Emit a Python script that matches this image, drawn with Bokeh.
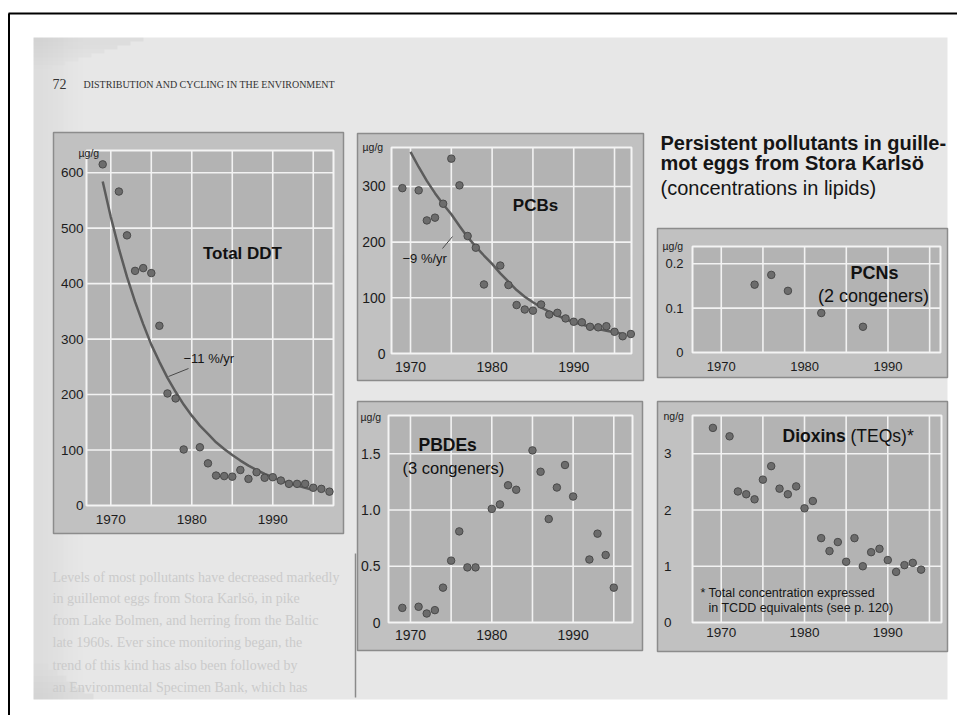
from bokeh.plotting import figure
from bokeh.models import Range1d, LinearAxis, FixedTicker
from bokeh.core.properties import value
from bokeh.embed import file_html
from bokeh.resources import INLINE

# ---------------- data ----------------
ddt_years = [1969, 1971, 1972, 1973, 1974, 1975, 1976, 1977, 1978, 1979, 1981, 1982, 1983, 1984,
             1985, 1986, 1987, 1988, 1989, 1990, 1991, 1992, 1993, 1994, 1995, 1996, 1997]
ddt_values = [615, 566, 487, 423, 428, 419, 324, 202, 193, 101, 105, 76, 54, 53,
              52, 64, 48, 60, 50, 51, 45, 39, 39, 39, 32, 30, 25]
ddt_fit_years = [1969, 1970, 1971, 1972, 1973, 1974, 1975, 1976, 1977, 1978, 1979, 1980, 1981, 1982,
                 1983, 1984, 1985, 1986, 1987, 1988, 1989, 1990, 1991, 1992, 1993, 1994, 1995]
ddt_fit_values = [584, 520, 463, 412, 367, 327, 290, 259, 230, 205, 182, 162, 144, 129,
                  114, 102, 91, 81, 72, 64, 57, 51, 45, 40, 36, 32, 28]

pcb_years = [1969, 1971, 1972, 1973, 1974, 1975, 1976, 1977, 1978, 1979, 1981, 1982, 1983, 1984,
             1985, 1986, 1987, 1988, 1989, 1990, 1991, 1992, 1993, 1994, 1995, 1996, 1997]
pcb_values = [297, 293, 239, 244, 269, 350, 302, 211, 190, 124, 158, 123, 87, 79,
              77, 88, 70, 73, 63, 57, 56, 48, 47, 49, 39, 31, 35]
pcb_fit_years = [1970, 1971, 1972, 1973, 1974, 1975, 1976, 1977, 1978, 1979, 1980, 1981, 1982,
                 1983, 1984, 1985, 1986, 1987, 1988, 1989, 1990, 1991, 1992, 1993, 1994, 1995, 1996]
pcb_fit_values = [362, 335, 310, 288, 268, 250, 229, 209, 192, 176, 161, 144, 129,
                  114, 102, 92, 83, 75, 68, 62, 56, 52, 48, 44, 41, 38, 35]

pbde_years = [1969, 1971, 1972, 1973, 1974, 1975, 1976, 1977, 1978, 1980, 1981, 1982, 1983,
              1985, 1986, 1987, 1988, 1989, 1990, 1992, 1993, 1994, 1995]
pbde_values = [0.13, 0.14, 0.08, 0.11, 0.31, 0.55, 0.81, 0.49, 0.49, 1.01, 1.05, 1.22, 1.18,
               1.53, 1.34, 0.92, 1.20, 1.40, 1.12, 0.56, 0.79, 0.60, 0.31]

pcn_years = [1974, 1976, 1978, 1982, 1987]
pcn_values = [0.153, 0.175, 0.139, 0.089, 0.058]

dioxin_years = [1969, 1971, 1972, 1973, 1974, 1975, 1976, 1977, 1978, 1979, 1980, 1981, 1982,
                1983, 1984, 1985, 1986, 1987, 1988, 1989, 1990, 1991, 1992, 1993, 1994]
dioxin_values = [3.46, 3.31, 2.33, 2.28, 2.19, 2.54, 2.78, 2.38, 2.28, 2.42, 2.03, 2.16, 1.50,
                 1.27, 1.43, 1.08, 1.50, 1.00, 1.25, 1.31, 1.11, 0.90, 1.02, 1.06, 0.94]

year_ticks = [1970, 1980, 1990]
year_grid = [1970, 1975, 1980, 1985, 1990, 1995]
ddt_yticks = [0, 100, 200, 300, 400, 500, 600]
pcb_yticks = [0, 100, 200, 300]
pbde_yticks = [0, 0.5, 1.0, 1.5]
pcn_yticks = [0, 0.1, 0.2]
dioxin_yticks = [0, 1, 2, 3]

# ---------------- page / style ----------------
# layout coordinates below are measured from an origin 8px right/below the window corner
OFF = 8
W, H = 957, 715
SANS_NAME = "Liberation Sans"
SANS = value(SANS_NAME)
SERIF = value("Liberation Serif")
PAGE = "#e7e7e7"
BOX = "#c1c1c1"
FRAME = "#b3b3b3"
DOT_FILL = "#6c6c6c"
DOT_LINE = "#4a4a4a"
CURVE = "#5c5c5c"
INK = "#1c1c1c"

p = figure(width=W, height=H, output_backend="svg", toolbar_location=None,
           x_range=Range1d(-OFF, W - OFF), y_range=Range1d(H - OFF, -OFF),
           x_axis_location=None, y_axis_location=None,
           min_border=0, outline_line_color=None,
           background_fill_color="white", border_fill_color="white")
p.grid.grid_line_color = None

# photo of the page
p.quad(left=[25], right=[939], top=[29], bottom=[691], fill_color=PAGE, line_color=None)
for i in range(10):
    p.quad(left=[25 + i * 5], right=[25 + (i + 1) * 5], top=[29], bottom=[691],
           fill_color="black", fill_alpha=0.044 * (10 - i) / 10, line_color=None)
for i in range(8):
    p.quad(left=[25], right=[25 + 110 - i * 13], top=[29 + i * 4], bottom=[29 + (i + 1) * 4],
           fill_color="black", fill_alpha=0.045 * (8 - i) / 8, line_color=None)
for i in range(6):
    p.quad(left=[25], right=[25 + 60 - i * 9], top=[691 - (i + 1) * 6], bottom=[691 - i * 6],
           fill_color="black", fill_alpha=0.04 * (6 - i) / 6, line_color=None)

# outer black border
p.segment(x0=[0.5], y0=[5], x1=[0.5], y1=[H], line_color="black", line_width=2)
p.segment(x0=[0], y0=[5], x1=[W], y1=[5], line_color="black", line_width=2)

# running head
p.text(x=[44], y=[75], text=["72"], text_font=SERIF, text_font_size="14px",
       text_baseline="middle", text_color="#333333")
p.text(x=[75], y=[76], text=["DISTRIBUTION AND CYCLING IN THE ENVIRONMENT"], text_font=SERIF,
       text_font_size="10px", text_baseline="middle", text_color="#333333")

# faint body text under the DDT panel
para = ["Levels of most pollutants have decreased markedly",
        "in guillemot eggs from Stora Karlsö, in pike",
        "from Lake Bolmen, and herring from the Baltic",
        "late 1960s. Ever since monitoring began, the",
        "trend of this kind has also been followed by",
        "an Environmental Specimen Bank, which has"]
p.text(x=[44] * 6, y=[569, 590, 612, 634, 657, 679], text=para, text_font=SERIF,
       text_font_size="14px", text_baseline="middle", text_color="#cbcbcb")
p.segment(x0=[347], y0=[545], x1=[347], y1=[689], line_color="#8a8a8a", line_width=1.5)

# title
p.text(x=[652, 652], y=[134, 154], text=["Persistent pollutants in guille-", "mot eggs from Stora Karlsö"],
       text_font=SANS, text_font_style="bold", text_font_size="20px", text_baseline="middle",
       text_color="#151515")
p.text(x=[652], y=[179], text=["(concentrations in lipids)"], text_font=SANS,
       text_font_size="20px", text_baseline="middle", text_color="#151515")

xr, yr = {}, {}
panels = []


def panel(name, frame, box, xlim, ylim, xgrid, yticks, xstand, ystand, fsize):
    L, T, R, B = frame
    x0, x1 = xlim
    y0, y1 = ylim
    sx = (R - L) / (x1 - x0)
    sy = (B - T) / (y1 - y0)
    xr[name] = Range1d(x0 - (L + OFF) / sx, x0 + (W - OFF - L) / sx)
    yr[name] = Range1d(y0 - (H - OFF - B) / sy, y0 + (B + OFF) / sy)
    panels.append(dict(name=name, box=box, xlim=xlim, ylim=ylim, xgrid=xgrid, yticks=yticks,
                       xstand=xstand, ystand=ystand, fsize=fsize, frame=frame))


panel("ddt", (78, 142, 325, 497), (45, 124, 335, 525), (1967.0, 1997.5), (0, 640),
      year_grid, ddt_yticks, 9, 3, "13.5px")
panel("pcb", (383, 139, 623, 345), (349, 125, 635, 372), (1967.67, 1997.08), (0, 370),
      year_grid, pcb_yticks, 8, 6, "14px")
panel("pbde", (380, 407, 624, 614), (349, 393, 634, 642), (1967.3, 1997.3), (0, 1.84),
      year_grid, pbde_yticks, 7, 8, "14px")
panel("pcn", (684, 238, 932, 344), (649, 220, 939, 369), (1966.55, 1996.3), (0, 0.239),
      year_grid, pcn_yticks, 9, 9, "13px")
panel("dioxin", (684, 407, 933, 614), (649, 393, 939, 643), (1966.55, 1996.45), (0, 3.68),
      year_grid, dioxin_yticks, 5, 21, "13.5px")

p.extra_x_ranges = xr
p.extra_y_ranges = yr

for pn in panels:
    n = pn["name"]
    bl, bt, br, bb = pn["box"]
    p.quad(left=[bl], right=[br], top=[bt], bottom=[bb], fill_color=BOX,
           line_color="#8c8c8c", line_width=1.5)
    x0, x1 = pn["xlim"]
    y0, y1 = pn["ylim"]
    kw = dict(x_range_name=n, y_range_name=n)
    p.quad(left=[x0], right=[x1], bottom=[y0], top=[y1], fill_color=FRAME,
           line_color="#f4f4f4", line_width=2, **kw)
    gx = pn["xgrid"]
    p.segment(x0=gx, y0=[y0] * len(gx), x1=gx, y1=[y1] * len(gx),
              line_color="#f2f2f2", line_width=1.6, **kw)
    gy = [t for t in pn["yticks"] if t > 0]
    p.segment(x0=[x0] * len(gy), y0=gy, x1=[x1] * len(gy), y1=gy,
              line_color="#f2f2f2", line_width=1.6, **kw)

    xa = LinearAxis(x_range_name=n, y_range_name=n, fixed_location=y0, bounds=(x0, x1),
                    ticker=FixedTicker(ticks=year_ticks), axis_line_color=None,
                    major_tick_line_color=None, minor_tick_line_color=None,
                    major_tick_out=0, major_tick_in=0,
                    major_label_standoff=pn["xstand"], major_label_text_font=SANS_NAME,
                    major_label_text_font_size=pn["fsize"], major_label_text_color=INK)
    p.add_layout(xa, "below")
    overrides = {0: "0"}
    if n == "pbde":
        overrides = {0: "0", 0.5: "0.5", 1: "1.0", 1.5: "1.5"}
    ya = LinearAxis(x_range_name=n, y_range_name=n, fixed_location=x0, bounds=(y0, y1),
                    ticker=FixedTicker(ticks=pn["yticks"]), axis_line_color=None,
                    major_tick_line_color=None, minor_tick_line_color=None,
                    major_tick_out=0, major_tick_in=0,
                    major_label_standoff=pn["ystand"], major_label_text_font=SANS_NAME,
                    major_label_text_font_size=pn["fsize"], major_label_text_color=INK,
                    major_label_overrides=overrides)
    p.add_layout(ya, "left")

# unit labels
p.text(x=[70, 354, 352, 654, 655], y=[144, 138, 408, 237, 407],
       text=["µg/g", "µg/g", "µg/g", "µg/g", "ng/g"], text_font=SANS,
       text_font_size="10.5px", text_baseline="middle", text_color=INK)

# series
series = [("ddt", ddt_years, ddt_values), ("pcb", pcb_years, pcb_values),
          ("pbde", pbde_years, pbde_values), ("pcn", pcn_years, pcn_values),
          ("dioxin", dioxin_years, dioxin_values)]
p.line(ddt_fit_years, ddt_fit_values, x_range_name="ddt", y_range_name="ddt",
       line_color=CURVE, line_width=2.5)
p.line(pcb_fit_years, pcb_fit_values, x_range_name="pcb", y_range_name="pcb",
       line_color=CURVE, line_width=2.5)
for n, xs, ys in series:
    p.scatter(xs, ys, x_range_name=n, y_range_name=n, size=7.5,
              fill_color=DOT_FILL, line_color=DOT_LINE, line_width=1)

# panel titles and notes
p.text(x=[234], y=[245], text=["Total DDT"], text_font=SANS, text_font_style="bold",
       text_font_size="17px", text_align="center", text_baseline="middle", text_color="#111111")
p.text(x=[527], y=[197], text=["PCBs"], text_font=SANS, text_font_style="bold",
       text_font_size="17px", text_align="center", text_baseline="middle", text_color="#111111")
p.text(x=[410], y=[436], text=["PBDEs"], text_font=SANS, text_font_style="bold",
       text_font_size="17.5px", text_baseline="middle", text_color="#111111")
p.text(x=[394], y=[459], text=["(3 congeners)"], text_font=SANS,
       text_font_size="16.5px", text_baseline="middle", text_color="#111111")
p.text(x=[866], y=[264], text=["PCNs"], text_font=SANS, text_font_style="bold",
       text_font_size="18px", text_align="center", text_baseline="middle", text_color="#111111")
p.text(x=[865], y=[287], text=["(2 congeners)"], text_font=SANS,
       text_font_size="18px", text_align="center", text_baseline="middle", text_color="#111111")
p.text(x=[774], y=[427], text=["Dioxins"], text_font=SANS, text_font_style="bold",
       text_font_size="17.5px", text_baseline="middle", text_color="#111111")
p.text(x=[842], y=[427], text=["(TEQs)*"], text_font=SANS,
       text_font_size="17.5px", text_baseline="middle", text_color="#111111")
p.text(x=[692, 700], y=[584, 599],
       text=["* Total concentration expressed", "in TCDD equivalents (see p. 120)"],
       text_font=SANS, text_font_size="12.5px", text_baseline="middle", text_color="#151515")

p.text(x=[175], y=[350], text=["\u221211 %/yr"], text_font=SANS, text_font_size="13px",
       text_baseline="middle", text_color="#151515")
p.segment(x0=[160], y0=[368], x1=[180], y1=[360], line_color="#4a4a4a", line_width=1)
p.text(x=[394], y=[250], text=["\u22129 %/yr"], text_font=SANS, text_font_size="13px",
       text_baseline="middle", text_color="#151515")
p.segment(x0=[434], y0=[240], x1=[444], y1=[228], line_color="#4a4a4a", line_width=1)

open("out.html", "w").write(file_html(p, INLINE))
